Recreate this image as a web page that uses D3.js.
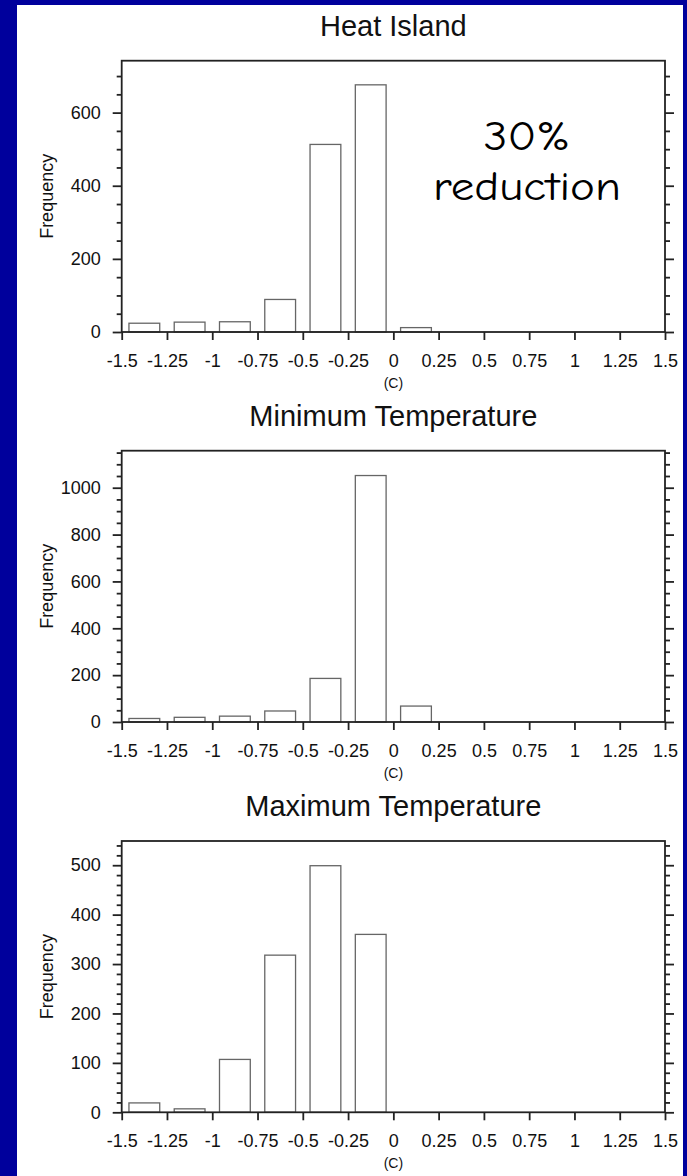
<!DOCTYPE html>
<html><head><meta charset="utf-8">
<script src="https://cdn.jsdelivr.net/npm/d3@7/dist/d3.min.js"></script>
<style>
html,body{margin:0;padding:0;background:#00009c;}
svg{display:block}
</style>
</head><body>
<svg id="c" width="687" height="1176"></svg>
<script>
// ---- data ----
const binCenters = [-1.375,-1.125,-0.875,-0.625,-0.375,-0.125,0.125,0.375,0.625,0.875,1.125,1.375];
const xTickValues = [-1.5,-1.25,-1,-0.75,-0.5,-0.25,0,0.25,0.5,0.75,1,1.25,1.5];
const xTickLabels = ["-1.5","-1.25","-1","-0.75","-0.5","-0.25","0","0.25","0.5","0.75","1","1.25","1.5"];
const heatIsland = [24,27,28,89,513,676,12,0,0,0,0,0];
const minTemp    = [15,20,25,47,186,1052,68,0,0,0,0,0];
const maxTemp    = [19,7,107,318,499,360,0,0,0,0,0,0];
const titles = ["Heat Island","Minimum Temperature","Maximum Temperature"];
const yMax = [742,1158,549];
const yMajor = [[0,200,400,600],[0,200,400,600,800,1000],[0,100,200,300,400,500]];
const yMinorStep = [50,50,20];
const xLabel = "(C)";
const yLabel = "Frequency";
const note = ["30%","reduction"];

const series = [heatIsland, minTemp, maxTemp];

const svg = d3.select("#c");
// white page area
svg.append("rect").attr("x",17).attr("y",5).attr("width",683-17).attr("height",1176-5).attr("fill","#fff");

const L = 121.7, R = 665, H = 271.3;
const tops = [60.7, 450.7, 841];
const x = d3.scaleLinear().domain([-1.5,1.5]).range([L,R]);
const binW = 0.25, barFrac = 0.68;
const font = "'Liberation Sans', Arial, Helvetica, sans-serif";

series.forEach((vals, i) => {
  const top = tops[i], bot = top + H;
  const y = d3.scaleLinear().domain([0, yMax[i]]).range([bot, top]);
  const g = svg.append("g");

  // title
  g.append("text").attr("x",(L+R)/2).attr("y",top-25).attr("text-anchor","middle")
    .attr("font-family",font).attr("font-size",29).attr("fill","#111").text(titles[i]);

  // bars
  g.selectAll("rect.bar").data(vals.map((v,k)=>({v,c:binCenters[k]})).filter(d=>d.v>0))
    .enter().append("rect").attr("class","bar")
    .attr("x", d => x(d.c - binW*barFrac/2))
    .attr("width", d => x(d.c + binW*barFrac/2) - x(d.c - binW*barFrac/2))
    .attr("y", d => y(d.v))
    .attr("height", d => y(0) - y(d.v))
    .attr("fill","#fff").attr("stroke","#666").attr("stroke-width",1.3);

  // ticks
  const minors = d3.range(0, yMax[i]+0.001, yMinorStep[i]).filter(v => !yMajor[i].includes(v));
  const minL = d3.axisLeft(y).tickValues(minors).tickSize(5).tickFormat("");
  const minR = d3.axisRight(y).tickValues(minors).tickSize(5).tickFormat("");
  const majL = d3.axisLeft(y).tickValues(yMajor[i]).tickSize(9).tickPadding(12).tickFormat(d=>d);
  const majR = d3.axisRight(y).tickValues(yMajor[i]).tickSize(9).tickFormat("");
  const xb = d3.axisBottom(x).tickValues(xTickValues).tickSize(8).tickPadding(14)
    .tickFormat((d,k)=>xTickLabels[k]);

  const style = sel => {
    sel.select(".domain").remove();
    sel.selectAll("line").attr("stroke","#222").attr("stroke-width",1.8);
    sel.selectAll("text").attr("font-family",font).attr("font-size",18).attr("fill","#111");
  };
  g.append("g").attr("transform",`translate(${L},0)`).call(minL).call(style);
  g.append("g").attr("transform",`translate(${R},0)`).call(minR).call(style);
  g.append("g").attr("transform",`translate(${L},0)`).call(majL).call(style);
  g.append("g").attr("transform",`translate(${R},0)`).call(majR).call(style);
  g.append("g").attr("transform",`translate(0,${bot})`).call(xb).call(style);

  // frame
  g.append("rect").attr("x",L).attr("y",top).attr("width",R-L).attr("height",H)
    .attr("fill","none").attr("stroke","#222").attr("stroke-width",1.8);

  // axis labels
  g.append("text").attr("x",(L+R)/2).attr("y",bot+56).attr("text-anchor","middle")
    .attr("font-family",font).attr("font-size",14).attr("fill","#111").text(xLabel);
  g.append("text").attr("transform",`translate(53,${(top+bot)/2}) rotate(-90)`)
    .attr("text-anchor","middle").attr("font-family",font).attr("font-size",18)
    .attr("fill","#111").text(yLabel);

  if (i === 0) {
    const widths = [87, 188];
    note.forEach((t,k) => {
      g.append("text").attr("x",527).attr("y",150 + k*50).attr("text-anchor","middle")
        .attr("font-family","'Comic Sans MS','Comic Neue','DejaVu Sans',sans-serif")
        .attr("font-size",40).attr("fill","#000")
        .attr("textLength",widths[k]).attr("lengthAdjust","spacingAndGlyphs").text(t);
    });
  }
});
</script>
</body></html>
